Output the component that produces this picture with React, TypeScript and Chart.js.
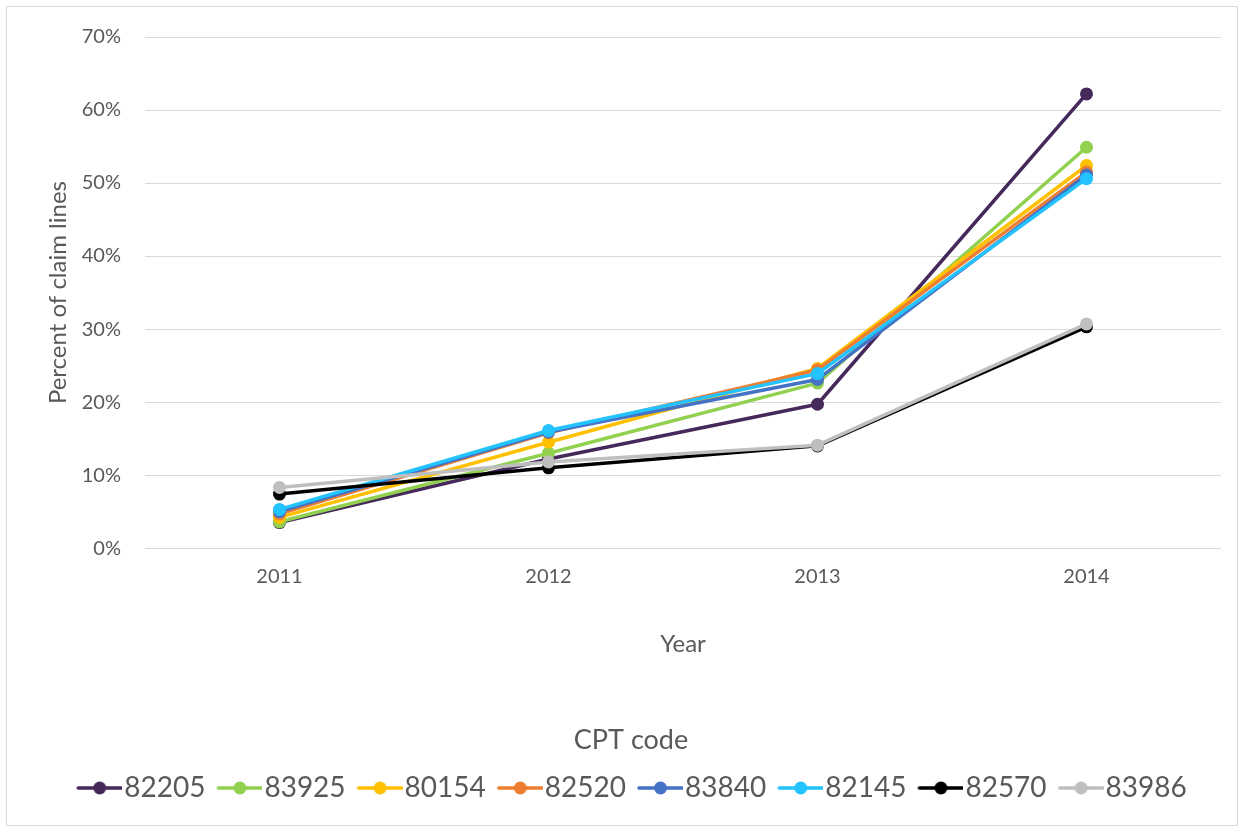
import React, { useEffect, useRef } from "react";
import { Chart, registerables } from "chart.js";

Chart.register(...registerables);

const years = ["2011", "2012", "2013", "2014"];
const codes = ["82205", "83925", "80154", "82520", "83840", "82145", "82570", "83986"];
const colors = ["#46295B", "#92D050", "#FFC000", "#ED7D31", "#4472C4", "#22C3FF", "#000000", "#BFBFBF"];

const v82205 = [3.5, 12.2, 19.7, 62.2];
const v83925 = [3.6, 13.0, 22.6, 54.9];
const v80154 = [4.2, 14.5, 24.6, 52.4];
const v82520 = [4.7, 15.8, 24.4, 51.5];
const v83840 = [5.0, 15.9, 23.1, 51.1];
const v82145 = [5.3, 16.1, 23.9, 50.6];
const v82570 = [7.4, 11.0, 14.0, 30.3];
const v83986 = [8.3, 11.8, 14.1, 30.7];

const seriesValues = [v82205, v83925, v80154, v82520, v83840, v82145, v82570, v83986];

const yTicks = [0, 10, 20, 30, 40, 50, 60, 70];

const TEXT = "#595959";
const FONT = "Lato, 'Open Sans', sans-serif";

function makeMarker(color: string): HTMLCanvasElement {
  const c = document.createElement("canvas");
  c.width = 59;
  c.height = 28;
  const g = c.getContext("2d")!;
  g.strokeStyle = color;
  g.lineWidth = 3.5;
  g.lineCap = "round";
  g.beginPath();
  g.moveTo(15, 14);
  g.lineTo(58, 14);
  g.stroke();
  g.fillStyle = color;
  g.beginPath();
  g.arc(36.5, 14, 6.5, 0, Math.PI * 2);
  g.fill();
  return c;
}

export default function App() {
  const ref = useRef<HTMLCanvasElement>(null);

  useEffect(() => {
    if (!ref.current) return;
    const markers = colors.map((c) => makeMarker(c));
    const n = codes.length;
    const chart = new Chart(ref.current, {
      type: "line",
      data: {
        labels: years,
        datasets: codes.map((code, i) => ({
          label: code,
          data: seriesValues[i],
          borderColor: colors[i],
          backgroundColor: colors[i],
          pointBackgroundColor: colors[i],
          pointBorderColor: colors[i],
          borderWidth: 3.5,
          pointRadius: 6.5,
          pointBorderWidth: 0,
          pointHoverRadius: 6.5,
          borderJoinStyle: "round" as const,
          borderCapStyle: "round" as const,
          tension: 0,
          fill: false,
          order: n - 1 - i,
        })),
      },
      options: {
        responsive: false,
        animation: false,
        layout: { padding: { left: 34, right: 16, top: 30, bottom: 13 } },
        plugins: {
          tooltip: { enabled: false },
          legend: {
            position: "bottom",
            align: "center",
            title: {
              display: true,
              text: "CPT code",
              color: TEXT,
              font: { family: FONT, size: 27 },
              padding: { top: 67.5, bottom: 5 },
            },
            labels: {
              color: TEXT,
              font: { family: FONT, size: 28 },
              usePointStyle: true,
              pointStyleWidth: 35,
              padding: 10,
              generateLabels: (ch: any) => {
                const items = Chart.defaults.plugins.legend.labels.generateLabels(ch);
                items.sort((a: any, b: any) => a.datasetIndex - b.datasetIndex);
                items.forEach((it: any) => {
                  it.pointStyle = markers[it.datasetIndex];
                  it.fontColor = TEXT;
                });
                return items;
              },
            },
          },
        },
        scales: {
          x: {
            type: "category",
            offset: true,
            grid: { display: false, drawTicks: false },
            border: { display: false },
            ticks: { color: TEXT, font: { family: FONT, size: 20 }, padding: 16 },
            title: {
              display: true,
              text: "Year",
              color: TEXT,
              font: { family: FONT, size: 24 },
              padding: { top: 0, bottom: 0 },
            },
            afterFit: (s: any) => {
              s.height = 111;
            },
          },
          y: {
            min: 0,
            max: 70,
            afterBuildTicks: (s: any) => {
              s.ticks = yTicks.map((v) => ({ value: v }));
            },
            grid: { color: "#D9D9D9", lineWidth: 1, drawTicks: false },
            border: { display: false },
            ticks: {
              color: TEXT,
              font: { family: FONT, size: 20 },
              padding: 24,
              callback: (v: any) => v + "%",
            },
            title: {
              display: true,
              text: "Percent of claim lines",
              color: TEXT,
              font: { family: FONT, size: 24 },
              padding: { top: 2.6, bottom: 0 },
            },
            afterFit: (s: any) => {
              s.width = 104;
              s.paddingTop = 0;
              s.paddingBottom = 0;
            },
          },
        },
      },
    } as any);
    return () => chart.destroy();
  }, []);

  return (
    <div
      style={{
        position: "absolute",
        left: 6,
        top: 6,
        width: 1230,
        height: 818,
        border: "1px solid #D9D9D9",
        background: "#FFFFFF",
      }}
    >
      <canvas ref={ref} width={1230} height={818} style={{ display: "block", width: 1230, height: 818 }} />
    </div>
  );
}
